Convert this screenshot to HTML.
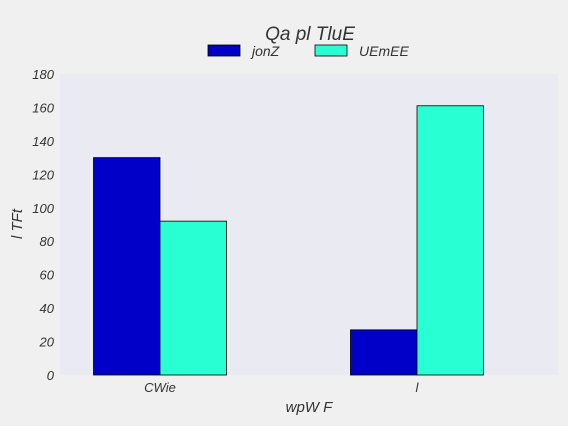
<!DOCTYPE html>
<html><head><meta charset="utf-8"><style>
body{margin:0;background:#f0f0f0;}
svg{display:block;font-family:"Liberation Sans","DejaVu Sans",sans-serif;font-style:italic;}
</style></head><body>
<svg width="568" height="426" id="chart">
<rect x="0" y="0" width="568" height="426" fill="#f0f0f0"/>
<rect x="60" y="74" width="498" height="301" fill="#eaeaf2"/>
<text x="310" y="40" font-size="19" text-anchor="middle" fill="#333">Qa pl TluE</text>
<g>
<g>
<rect x="208" y="45" width="32" height="11" fill="#0000c8" stroke="#000" stroke-width="0.8"/>
<text x="252" y="56" font-size="14" fill="#333">jonZ</text></g>
<g>
<rect x="315" y="45" width="32" height="11" fill="#28ffd2" stroke="#000" stroke-width="0.8"/>
<text x="359" y="56" font-size="14" fill="#333">UEmEE</text></g>
</g>
<text transform="translate(22,224) rotate(-90)" font-size="15" text-anchor="middle" fill="#333">l TFt</text>
<text x="309" y="412" font-size="15" text-anchor="middle" fill="#333">wpW F</text>
<g id="yticks"></g>
<g id="xticks"></g>
<g id="bars"></g>
</svg>
<script>
const categories=["CWie","l"];
const seriesNames=["jonZ","UEmEE"];
const jonZ=[130,27];
const UEmEE=[92,161];
const yTicks=[0,20,40,60,80,100,120,140,160,180];
const colors=["#0000c8","#28ffd2"];
const NS="http://www.w3.org/2000/svg";
function ys(v){return 375-(v/180)*301;}
function xs(i){return 160+257*i;}
const barW=66.5;
const yg=document.getElementById('yticks');
yTicks.forEach(t=>{
 const tx=document.createElementNS(NS,'text');
 tx.setAttribute('x',54);tx.setAttribute('y',ys(t)+5);
 tx.setAttribute('font-size','13');tx.setAttribute('text-anchor','end');tx.setAttribute('fill','#333');
 tx.textContent=t;
 
 
 yg.appendChild(tx);
});
const xg=document.getElementById('xticks');
categories.forEach((c,i)=>{
 const tx=document.createElementNS(NS,'text');
 tx.setAttribute('x',xs(i));tx.setAttribute('y',392);
 tx.setAttribute('font-size','13');tx.setAttribute('text-anchor','middle');tx.setAttribute('fill','#333');
 tx.textContent=c;
 
 
 xg.appendChild(tx);
});
const bg=document.getElementById('bars');
[jonZ,UEmEE].forEach((arr,s)=>{
 arr.forEach((v,i)=>{
  const r=document.createElementNS(NS,'rect');
  const x=xs(i)+(s===0?-barW:0);
  r.setAttribute('x',x);r.setAttribute('y',ys(v));
  r.setAttribute('width',barW);r.setAttribute('height',ys(0)-ys(v));
  r.setAttribute('fill',colors[s]);r.setAttribute('stroke','#000');r.setAttribute('stroke-width','0.8');
  
  
  bg.appendChild(r);
 });
});
</script>
</body></html>
